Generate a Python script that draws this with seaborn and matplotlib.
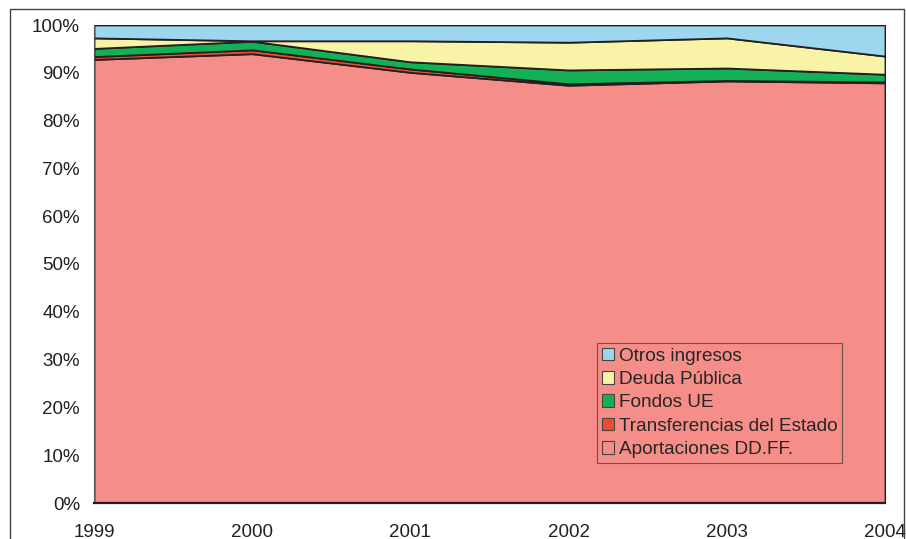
import matplotlib
matplotlib.use("Agg")
import matplotlib.pyplot as plt
import seaborn as sns
from matplotlib.patches import Rectangle, Patch
from matplotlib.ticker import PercentFormatter

# years and shares (%)
years = [1999, 2000, 2001, 2002, 2003, 2004]
aportaciones = [92.8, 94.0, 90.1, 87.4, 88.3, 87.9]
transferencias = [0.6, 0.8, 0.7, 0.3, 0.1, 0.2]
fondos_ue = [1.7, 1.8, 1.5, 2.9, 2.6, 1.6]
deuda = [2.2, 0.1, 4.4, 5.8, 6.3, 3.8]
otros = [2.7, 3.3, 3.3, 3.6, 2.7, 6.5]

labels = ['Aportaciones DD.FF.', 'Transferencias del Estado', 'Fondos UE',
          'Deuda Pública', 'Otros ingresos']
colors = ['#F58D89', '#F04B2F', '#13B056', '#F8F3A7', '#9ED6F0']

sns.set_style('white')
plt.rcParams['font.family'] = ['Liberation Sans', 'DejaVu Sans']

fig = plt.figure(figsize=(9.06, 5.39), dpi=100)
ax = fig.add_axes([94 / 906, 36 / 539, 791 / 906, 478 / 539])

ax.stackplot(years, aportaciones, transferencias, fondos_ue, deuda, otros,
             colors=colors, edgecolor='#231F20', linewidth=1.3)

ax.set_xlim(1999, 2004)
ax.set_ylim(0, 100)
ax.set_xticks(years)
ax.set_yticks(range(0, 101, 10))
ax.yaxis.set_major_formatter(PercentFormatter(decimals=0))

for s in ['top', 'right']:
    ax.spines[s].set_visible(False)
ax.spines['left'].set_color('#555555')
ax.spines['left'].set_linewidth(0.8)
ax.spines['bottom'].set_color('#231F20')
ax.spines['bottom'].set_linewidth(1.6)

ax.tick_params(axis='both', direction='inout', length=10, width=0.8,
               color='#555555', labelsize=13.5, labelcolor='#231F20')
ax.tick_params(axis='x', pad=10)
ax.tick_params(axis='y', pad=5)

handles = [Patch(facecolor=c, edgecolor='#444444', linewidth=0.8) for c in colors]
leg = ax.legend(handles[::-1], labels[::-1], loc='upper left',
                bbox_to_anchor=(0.636, 0.335), borderaxespad=0,
                frameon=True, fancybox=False, facecolor='none',
                edgecolor='#444444', fontsize=13.7, handlelength=0.65,
                handleheight=0.65, handletextpad=0.25, labelspacing=0.33,
                borderpad=0.25)
leg.get_frame().set_linewidth(0.8)

# outer chart frame
fig.patches.append(Rectangle((10 / 906, -0.05), 894 / 906, 1.05 - 9 / 539,
                             transform=fig.transFigure, fill=False,
                             edgecolor='#444444', linewidth=1.0))

fig.savefig('out.png', dpi=100)
